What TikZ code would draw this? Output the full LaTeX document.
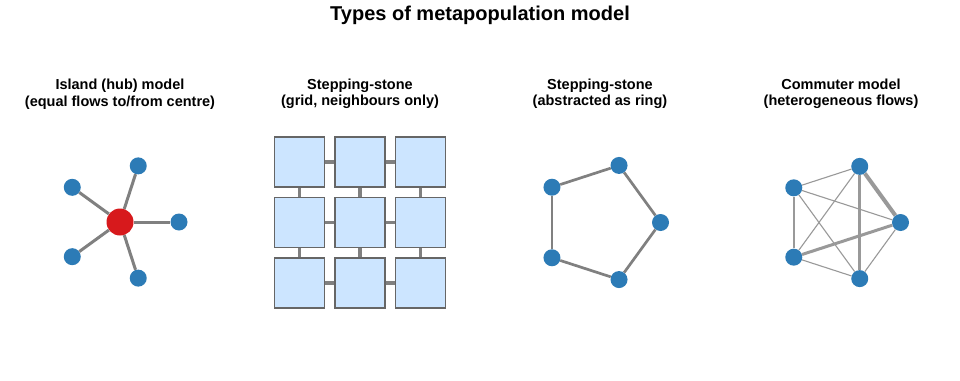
\documentclass[tikz,border=0pt]{standalone}
\usepackage{fontspec}
\setmainfont{Liberation Sans}
\definecolor{PatchBlue}{HTML}{2C7BB6}
\definecolor{HubRed}{HTML}{D7191C}
\definecolor{CellBlue}{HTML}{CCE5FF}
\definecolor{LinkGray}{HTML}{808080}
\definecolor{FlowGray}{HTML}{999999}
\tikzset{
  patch/.style={circle, fill=PatchBlue, inner sep=0pt, minimum size=17pt},
  hub/.style={circle, fill=HubRed, inner sep=0pt, minimum size=27pt},
  cell/.style={draw=black!60, fill=CellBlue, line width=1.8pt,
               minimum size=50pt, inner sep=0pt},
  link/.style={draw=LinkGray, line width=3pt},
  flow/.style={draw=FlowGray, line width=#1},
  flow/.default=1.1pt,
  heading/.style={font=\bfseries\fontsize{14.5}{16.5}\selectfont, align=center},
}

\begin{document}
\begin{tikzpicture}[x=1pt, y=-1pt]
  \useasboundingbox[fill=white] (0,0) rectangle (960,380);
  \node[font=\bfseries\fontsize{20}{22}\selectfont] (title) at (480,15)
    {Types of metapopulation model};

  % panel headings
  \node[heading] (hubhead) at (120,94) {Island (hub) model\\(equal flows to/from centre)};
  \node[heading] (gridhead) at (360,94) {Stepping-stone\\(grid, neighbours only)};
  \node[heading] (ringhead) at (600,94) {Stepping-stone\\(abstracted as ring)};
  \node[heading] (commhead) at (841,94) {Commuter model\\(heterogeneous flows)};

  % island model
  \begin{scope}[shift={(120,222)}]
    \node[hub] (h0) at (0,0) {};
    \foreach \i/\a in {1/0,2/72,3/144,4/216,5/288} {
      \node[patch] (h\i) at (\a:59) {};
      \draw[link] (h0) -- (h\i);
    }
  \end{scope}

  % stepping-stone grid
  \foreach \i in {0,1,2}
    \foreach \j in {0,1,2}
      \node[cell] (g\i\j) at (299.5+60.5*\i, 162+60.5*\j) {};
  \foreach \i/\k in {0/1,1/2}
    \foreach \j in {0,1,2} {
      \draw[link, line width=3.5pt] (g\i\j) -- (g\k\j);
      \draw[link, line width=3.5pt] (g\j\i) -- (g\j\k);
    }

  % ring
  \begin{scope}[shift={(600.5,222.5)}]
    \foreach \i/\a in {1/0,2/72,3/144,4/216,5/288}
      \node[patch] (r\i) at (\a:60) {};
    \foreach \i/\k in {1/2,2/3,3/4,4/5,5/1}
      \draw[link, line width=2.7pt] (r\i) -- (r\k);
  \end{scope}

  % commuter model
  \begin{scope}[shift={(841.5,222.5)}]
    \node[patch] (cR) at (0:59) {};
    \node[patch] (cB) at (72:59) {};
    \node[patch] (cLB) at (144:59) {};
    \node[patch] (cLT) at (216:59) {};
    \node[patch] (cT) at (288:59) {};
    \draw[flow] (cLT) -- (cT);
    \draw[flow] (cLT) -- (cR);
    \draw[flow] (cLT) -- (cB);
    \draw[flow=1.6pt] (cLT) -- (cLB);
    \draw[flow] (cT) -- (cLB);
    \draw[flow] (cR) -- (cB);
    \draw[flow] (cLB) -- (cB);
    \draw[flow=4pt] (cT) -- (cR);
    \draw[flow=3.2pt] (cT) -- (cB);
    \draw[flow=3pt] (cR) -- (cLB);
  \end{scope}
\end{tikzpicture}
\end{document}
